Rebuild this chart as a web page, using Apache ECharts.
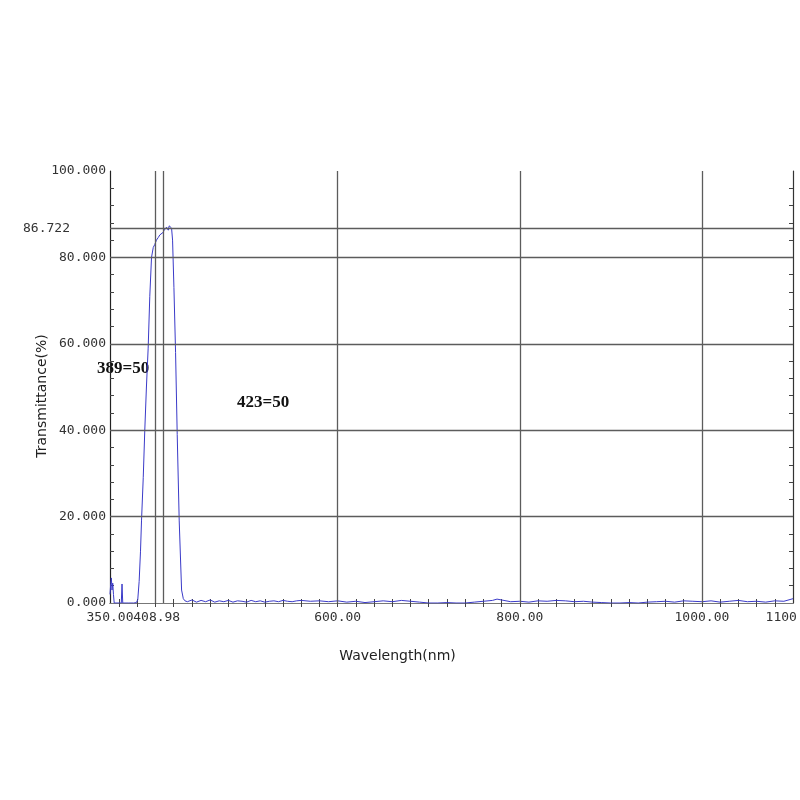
<!DOCTYPE html>
<html>
<head>
<meta charset="utf-8">
<script src="https://cdn.jsdelivr.net/npm/echarts@6/dist/echarts.min.js"></script>
<style>
  html, body { margin: 0; padding: 0; background: #fff; }
  #chart { width: 800px; height: 800px; }
</style>
</head>
<body>
<div id="chart"></div>
<script>
// wavelength (nm) and transmittance (%)
const wavelengths = [
  350, 350.8, 351.5, 352.2, 353, 353.8, 354.6, 355.5, 362.4, 363.2, 364, 370, 376, 379,
  380.5, 382, 383.5, 384.6, 386.5, 388.2, 390, 391.9, 393.7, 395.6, 397.5, 399.2,
  401, 403, 404.7, 406.5, 408.4, 409.5, 410.5, 411.3, 412.1, 413, 414, 415, 416, 417,
  417.6, 418.7, 420.2, 422, 423.8, 426, 428.6, 430.5, 432.3,
  435, 440, 445, 450, 455, 460, 465, 470, 475, 480, 485, 490, 495, 500, 505, 510, 515,
  520, 525, 530, 535, 540, 545, 550, 555, 560, 570, 580, 590, 600, 610, 620, 630, 640,
  650, 660, 670, 680, 690, 700, 710, 720, 730, 740, 750, 760, 770, 775, 780, 790, 800,
  810, 820, 830, 840, 850, 860, 870, 880, 890, 900, 910, 920, 930, 940, 950, 960, 970,
  980, 990, 1000, 1010, 1020, 1030, 1040, 1050, 1060, 1070, 1080, 1090, 1100
];
const transmittance = [
  2.0, 4.5, 5.8, 3.0, 4.6, 2.0, 0.0, 0.0, 0.0, 4.4, 0.0, 0.0, 0.0, 0.1,
  0.8, 5, 12, 19, 29, 40, 50, 59, 71, 80, 82.3, 83,
  84, 84.6, 85.2, 85.4, 85.8, 86.3, 86.6, 86, 87, 86.7, 86.3, 87.3, 87.1, 87.5,
  86.8, 84, 73, 58, 39, 19, 3, 1, 0.5,
  0.3, 0.7, 0.2, 0.6, 0.3, 0.7, 0.2, 0.5, 0.3, 0.6, 0.2, 0.5, 0.4, 0.2, 0.6, 0.3, 0.5,
  0.2, 0.4, 0.5, 0.3, 0.6, 0.4, 0.3, 0.5, 0.6, 0.4, 0.5, 0.3, 0.5, 0.2, 0.4, 0.1, 0.3,
  0.5, 0.3, 0.6, 0.4, 0.2, 0.0, 0.0, 0.1, 0.0, 0.0, 0.2, 0.4, 0.6, 0.9, 0.7, 0.3, 0.4,
  0.2, 0.5, 0.4, 0.6, 0.5, 0.3, 0.4, 0.2, 0.1, 0.0, 0.0, 0.1, 0.0, 0.2, 0.3, 0.4, 0.2,
  0.5, 0.4, 0.3, 0.5, 0.2, 0.4, 0.6, 0.3, 0.4, 0.2, 0.5, 0.4, 1.0
];

// axis labels, ticks and reference lines
const xLabels = [350, 600, 800, 1000, 1100];
const centreLabels = [408.98];
const xTicks = [360, 380, 400, 420, 440, 460, 480, 500, 520, 540, 560, 580, 600, 620, 640,
  660, 680, 700, 720, 740, 760, 780, 800, 820, 840, 860, 880, 900, 920, 940, 960, 980,
  1000, 1020, 1040, 1060, 1080];
const yLabels = [0, 20, 40, 60, 80, 86.722, 100];
const yTicks = [4, 8, 12, 16, 20, 24, 28, 32, 36, 40, 44, 48, 52, 56, 60, 64, 68, 72, 76,
  80, 84, 88, 92, 96];
const gridX = [400, 408.98, 600, 800, 1000];
const gridY = [20, 40, 60, 80, 86.722];
const peakValue = 86.722;
const notes = ['389=50', '423=50'];

const monoFont = '"DejaVu Sans Mono", monospace';

var dom = document.getElementById('chart');
var myChart = echarts.init(dom);

var tickStyle = { show: true, inside: true, length: 4, lineStyle: { color: '#444', width: 1 } };

var option = {
  backgroundColor: '#fff',
  animation: false,
  grid: { left: 110, right: 7, top: 171, bottom: 197, containLabel: false, outerBoundsMode: 'none' },
  xAxis: [{
    type: 'value',
    min: 350,
    max: 1100,
    position: 'bottom',
    name: 'Wavelength(nm)',
    nameLocation: 'middle',
    nameGap: 46,
    nameMoveOverlap: false,
    nameTextStyle: { fontFamily: 'DejaVu Sans', fontSize: 14, color: '#222', padding: [0, 108, 0, 0] },
    axisLine: { show: true, lineStyle: { color: '#666', width: 1.2 } },
    axisTick: Object.assign({ customValues: xTicks }, tickStyle),
    axisLabel: {
      customValues: xLabels,
      hideOverlap: false,
      margin: 8,
      fontFamily: monoFont,
      fontSize: 13,
      color: '#333',
      formatter: function (v) { return v.toFixed(2); }
    },
    splitLine: { show: false }
  }, {
    type: 'value',
    min: 350,
    max: 1100,
    position: 'top',
    axisLine: { show: true, lineStyle: { color: '#777', width: 1.2 } },
    axisTick: Object.assign({ customValues: xTicks }, tickStyle),
    axisLabel: { show: false },
    splitLine: { show: false }
  }, {
    // centre wavelength label, sitting right after the 350.00 label
    type: 'value',
    min: 350,
    max: 1100,
    position: 'bottom',
    offset: 0,
    axisLine: { show: false },
    axisTick: { show: false },
    axisLabel: {
      customValues: centreLabels,
      hideOverlap: false,
      margin: 8,
      fontFamily: monoFont,
      fontSize: 13,
      color: '#333',
      formatter: function (v) { return '{s|' + v.toFixed(2) + '}'; },
      rich: { s: { fontFamily: monoFont, fontSize: 13, color: '#333', padding: [0, 14, 0, 0] } }
    },
    splitLine: { show: false }
  }],
  yAxis: [{
    type: 'value',
    min: 0,
    max: 100,
    position: 'left',
    name: 'Transmittance(%)',
    nameLocation: 'middle',
    nameGap: 61,
    nameMoveOverlap: false,
    nameTextStyle: { fontFamily: 'DejaVu Sans', fontSize: 14, color: '#222', padding: [0, 18, 0, 0] },
    axisLine: { show: true, lineStyle: { color: '#222', width: 1.2 } },
    axisTick: Object.assign({ customValues: yTicks }, tickStyle),
    axisLabel: {
      customValues: yLabels,
      hideOverlap: false,
      margin: 4,
      fontFamily: monoFont,
      fontSize: 13,
      color: '#333',
      formatter: function (v) {
        return v === peakValue ? '{p|' + v.toFixed(3) + '}' : v.toFixed(3);
      },
      rich: { p: { fontFamily: monoFont, fontSize: 13, color: '#333', padding: [0, 36, 0, 0] } }
    },
    splitLine: { show: false }
  }, {
    type: 'value',
    min: 0,
    max: 100,
    position: 'right',
    axisLine: { show: true, lineStyle: { color: '#333', width: 1.2 } },
    axisTick: Object.assign({ customValues: yTicks }, tickStyle),
    axisLabel: { show: false },
    splitLine: { show: false }
  }],
  graphic: [
    { type: 'text', left: 97, top: 360, style: { text: notes[0], font: 'bold 17px "Liberation Serif"', fill: '#111' } },
    { type: 'text', left: 237, top: 394, style: { text: notes[1], font: 'bold 17px "Liberation Serif"', fill: '#111' } }
  ],
  series: [{
    // grid lines
    type: 'line',
    data: [],
    z: 1,
    silent: true,
    markLine: {
      silent: true,
      symbol: 'none',
      label: { show: false },
      lineStyle: { type: 'solid', color: '#5c5c5c', width: 1.3 },
      data: gridX.map(function (v) { return { xAxis: v }; })
        .concat(gridY.map(function (v) { return { yAxis: v }; }))
    }
  }, {
    type: 'line',
    data: wavelengths.map(function (w, i) { return [w, transmittance[i]]; }),
    showSymbol: false,
    symbol: 'none',
    z: 3,
    lineStyle: { color: '#3a3ac8', width: 1 }
  }]
};

if (option && typeof option === "object") {
  myChart.setOption(option, true);
}
</script>
</body>
</html>
